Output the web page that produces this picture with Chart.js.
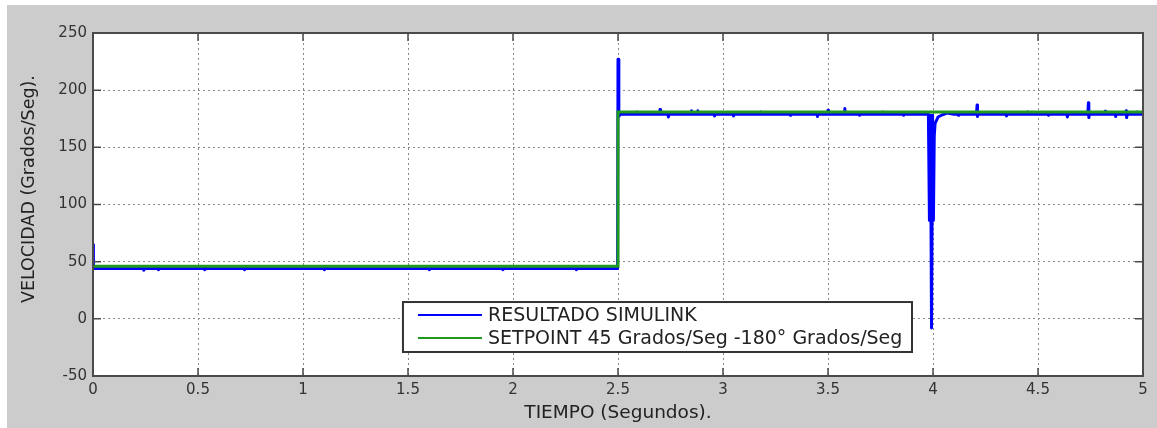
<!DOCTYPE html>
<html>
<head>
<meta charset="utf-8">
<script src="https://cdn.jsdelivr.net/npm/chart.js@4"></script>
<style>
  html, body { margin: 0; padding: 0; background: #ffffff; }
  #marco { position: absolute; left: 7px; top: 5px; width: 1150px; height: 423px; background: #cccccc; }
</style>
</head>
<body>
<div id="marco"><canvas id="grafico" width="1150" height="423"></canvas></div>
<script>
// Datos
const setpointT = [0, 2.5, 2.5, 5];
const setpointV = [46, 46, 181, 181];

const simulinkT = [
  0, 0.002, 0.24, 0.242, 0.245, 0.31, 0.312, 0.315, 0.53, 0.532, 0.535,
  0.72, 0.722, 0.725, 1.1, 1.102, 1.105, 1.6, 1.602, 1.605, 1.95, 1.952, 1.955,
  2.3, 2.302, 2.305, 2.498, 2.5, 2.504, 2.51,
  2.588, 2.59, 2.593, 2.698, 2.7, 2.703, 2.738, 2.74, 2.743,
  2.848, 2.85, 2.853, 2.878, 2.88, 2.883, 2.958, 2.96, 2.963,
  3.048, 3.05, 3.053, 3.178, 3.18, 3.183, 3.318, 3.32, 3.323,
  3.448, 3.45, 3.453, 3.498, 3.5, 3.503, 3.578, 3.58, 3.583,
  3.648, 3.65, 3.653, 3.758, 3.76, 3.763, 3.858, 3.86, 3.863,
  3.928, 3.93, 3.933, 3.978,
  3.983, 3.988, 3.993, 3.998, 4.002, 4.006, 4.01, 4.024, 4.045, 4.067, 4.1,
  4.118, 4.12, 4.123, 4.207, 4.21, 4.212, 4.215,
  4.348, 4.35, 4.353, 4.448, 4.45, 4.453, 4.548, 4.55, 4.553,
  4.638, 4.64, 4.643, 4.737, 4.74, 4.742, 4.745,
  4.818, 4.82, 4.823, 4.868, 4.87, 4.873, 4.917, 4.92, 4.922, 4.925,
  4.968, 4.97, 4.973, 5
];
const simulinkV = [
  65, 44, 44, 42.5, 44, 44, 43, 44, 44, 43, 44,
  44, 43, 44, 44, 43, 44, 44, 43, 44, 44, 43, 44,
  44, 43, 44, 44, 227, 177, 179,
  179, 181, 179, 179, 183, 179, 179, 176.5, 179,
  179, 182, 179, 179, 182, 179, 179, 177.5, 179,
  179, 177.5, 179, 179, 181, 179, 179, 178, 179,
  179, 177, 179, 179, 182.5, 179, 179, 184, 179,
  179, 178, 179, 179, 181, 179, 179, 178, 179,
  179, 180.5, 179, 179,
  86, 178, -8, 178, 86, 160, 171, 176.5, 178.5, 180, 179,
  179, 178, 179, 179, 187, 177, 179,
  179, 177.5, 179, 179, 181, 179, 179, 178, 179,
  179, 176.5, 179, 179, 189, 176, 179,
  179, 181.5, 179, 179, 177, 179, 179, 182, 176, 179,
  179, 181, 179, 179
];

const etiquetas = ['RESULTADO SIMULINK', 'SETPOINT 45 Grados/Seg -180° Grados/Seg'];
const tituloY = 'VELOCIDAD (Grados/Seg).';
const tituloX = 'TIEMPO (Segundos).';
const ticksX = [0, 0.5, 1, 1.5, 2, 2.5, 3, 3.5, 4, 4.5, 5];
const ticksY = [-50, 0, 50, 100, 150, 200, 250];

const FUENTE = '"DejaVu Sans", Verdana, sans-serif';
const GRIS = '#4a4a4a';

// fondo blanco, caja, marcas hacia dentro, titulo Y y leyenda estilo matlab
const marcoMatlab = {
  id: 'marcoMatlab',
  beforeDraw(chart) {
    const a = chart.chartArea;
    chart.ctx.save();
    chart.ctx.fillStyle = '#ffffff';
    chart.ctx.fillRect(a.left, a.top, a.right - a.left, a.bottom - a.top);
    chart.ctx.restore();
  },
  afterDatasetsDraw(chart) {
    const ctx = chart.ctx;
    const a = chart.chartArea;
    const sx = chart.scales.x, sy = chart.scales.y;
    ctx.save();
    ctx.strokeStyle = GRIS;
    ctx.lineWidth = 1.5;
    ctx.beginPath();
    ticksY.forEach(v => {
      const py = sy.getPixelForValue(v);
      ctx.moveTo(a.left, py); ctx.lineTo(a.left + 8, py);
      ctx.moveTo(a.right, py); ctx.lineTo(a.right - 8, py);
    });
    ticksX.forEach(v => {
      const px = sx.getPixelForValue(v);
      ctx.moveTo(px, a.bottom); ctx.lineTo(px, a.bottom - 8);
      ctx.moveTo(px, a.top); ctx.lineTo(px, a.top + 8);
    });
    ctx.stroke();
    ctx.lineWidth = 2;
    ctx.strokeRect(a.left, a.top, a.right - a.left, a.bottom - a.top);

    // titulo del eje Y (un poco por encima del centro, como en la figura)
    ctx.save();
    ctx.translate(22, a.top + (a.bottom - a.top) * 0.455);
    ctx.rotate(-Math.PI / 2);
    ctx.font = '17.5px ' + FUENTE;
    ctx.fillStyle = '#222222';
    ctx.textAlign = 'center';
    ctx.textBaseline = 'middle';
    ctx.fillText(tituloY, 0, 0);
    ctx.restore();

    // leyenda
    const x0 = sx.getPixelForValue(1.476), x1 = sx.getPixelForValue(3.9);
    const y0 = sy.getPixelForValue(14.7), y1 = sy.getPixelForValue(-29);
    ctx.fillStyle = '#ffffff';
    ctx.fillRect(x0, y0, x1 - x0, y1 - y0);
    ctx.strokeStyle = '#333333';
    ctx.lineWidth = 2;
    ctx.strokeRect(x0, y0, x1 - x0, y1 - y0);
    ctx.font = '19px ' + FUENTE;
    ctx.textBaseline = 'middle';
    chart.data.datasets.forEach((ds, i) => {
      const yy = y0 + 13 + i * 23;
      ctx.strokeStyle = ds.borderColor;
      ctx.lineWidth = 2;
      ctx.beginPath();
      ctx.moveTo(x0 + 15, yy); ctx.lineTo(x0 + 79, yy);
      ctx.stroke();
      ctx.fillStyle = '#222222';
      ctx.fillText(ds.label, x0 + 85, yy + 1);
    });
    ctx.restore();
  }
};

const puntos = (t, v) => t.map((x, i) => ({ x: x, y: v[i] }));

new Chart(document.getElementById('grafico'), {
  type: 'line',
  data: {
    datasets: [
      {
        label: etiquetas[0],
        data: puntos(simulinkT, simulinkV),
        borderColor: '#0000ff',
        borderWidth: 3,
        borderJoinStyle: 'round',
        borderCapStyle: 'round',
        pointRadius: 0,
        tension: 0,
        order: 2
      },
      {
        label: etiquetas[1],
        data: puntos(setpointT, setpointV),
        borderColor: '#1f9a1f',
        borderWidth: 3,
        pointRadius: 0,
        tension: 0,
        order: 1
      }
    ]
  },
  options: {
    responsive: false,
    animation: false,
    layout: { padding: { left: 12, right: 14, top: 28, bottom: 0 } },
    plugins: { legend: { display: false }, tooltip: { enabled: false } },
    scales: {
      x: {
        type: 'linear',
        min: 0, max: 5,
        afterFit: s => { s.height = 52; },
        afterBuildTicks: s => { s.ticks = ticksX.map(v => ({ value: v })); },
        ticks: {
          padding: 5,
          color: '#333333',
          font: { family: FUENTE, size: 15 },
          callback: v => String(v)
        },
        grid: { color: '#8a8a8a', lineWidth: 1, drawTicks: false },
        border: { display: false, dash: [2, 3] },
        title: {
          display: true,
          text: tituloX,
          color: '#222222',
          font: { family: FUENTE, size: 18.5 },
          padding: { top: 0, bottom: 4 }
        }
      },
      y: {
        min: -50, max: 250,
        afterFit: s => { s.width = 74; },
        afterBuildTicks: s => { s.ticks = ticksY.map(v => ({ value: v })); },
        ticks: {
          padding: 6,
          color: '#333333',
          font: { family: FUENTE, size: 15 },
          callback: v => String(v)
        },
        grid: { color: '#8a8a8a', lineWidth: 1, drawTicks: false },
        border: { display: false, dash: [2, 3] },
        title: { display: false }
      }
    }
  },
  plugins: [marcoMatlab]
});
</script>
</body>
</html>
